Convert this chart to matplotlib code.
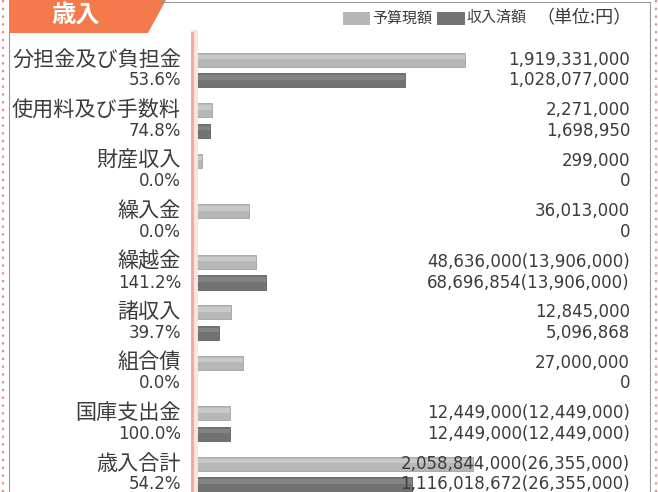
import numpy as np
import matplotlib.pyplot as plt
import matplotlib.transforms as mtransforms
from matplotlib.patches import Polygon, Rectangle
from matplotlib.lines import Line2D

plt.rcParams['font.family'] = ['Noto Sans CJK JP', 'DejaVu Sans']

categories = ["分担金及び負担金", "使用料及び手数料", "財産収入", "繰入金", "繰越金",
              "諸収入", "組合債", "国庫支出金", "歳入合計"]
budget = [1919331000, 2271000, 299000, 36013000, 48636000,
          12845000, 27000000, 12449000, 2058844000]
received = [1028077000, 1698950, 0, 0, 68696854,
            5096868, 0, 12449000, 1116018672]
budget_paren = [None, None, None, None, 13906000, None, None, 12449000, 26355000]
received_paren = [None, None, None, None, 13906000, None, None, 12449000, 26355000]

W, H = 658, 492
light = "#b7b7b7"
dark = "#727272"
txt = "#3c3c3c"
orange = "#f47a4c"

def fx(p):
    return p / W

def fy(p):
    return 1 - p / H

fig = plt.figure(figsize=(W / 100, H / 100), dpi=100)

# bar area
x0 = 194
ax = fig.add_axes([fx(x0), 0, fx(650 - x0), 1])
ax.patch.set_alpha(0)
ax.axis("off")

p = 0.4
ax.set_xscale("function", functions=(lambda x: np.sign(x) * np.abs(x) ** p,
                                     lambda x: np.sign(x) * np.abs(x) ** (1 / p)))
xmax = budget[0] * ((650 - x0) / (465 - x0)) ** (1 / p)
ax.set_xlim(0, xmax)
step = 50.5
ax.set_ylim((H - 60) / step, -60 / step)

idx = np.arange(len(categories))
off = 20.5 / step
bh = 14 / step
ax.barh(idx, budget, height=bh, color=light, edgecolor="#a3a3a3", linewidth=0.6)
ax.barh(idx + off, received, height=bh, color=dark, edgecolor="#606060", linewidth=0.6)
# highlight on upper part of bars
ax.barh(idx - bh * 0.22, budget, height=bh * 0.3, color="white", alpha=0.25, linewidth=0)
ax.barh(idx + off - bh * 0.22, received, height=bh * 0.3, color="white", alpha=0.12, linewidth=0)

tr = mtransforms.blended_transform_factory(fig.transFigure, ax.transData)
for i, cat in enumerate(categories):
    pct = received[i] / budget[i] * 100
    fig.text(fx(181), i, cat, transform=tr, ha="right", va="center",
             fontsize=15.2, color=txt)
    fig.text(fx(181), i + off, f"{pct:.1f}%", transform=tr, ha="right",
             va="center", fontsize=12, color=txt, family="DejaVu Sans")
    s1 = f"{budget[i]:,}" + (f"({budget_paren[i]:,})" if budget_paren[i] else "")
    s2 = f"{received[i]:,}" + (f"({received_paren[i]:,})" if received_paren[i] else "")
    fig.text(fx(630), i, s1, transform=tr, ha="right", va="center",
             fontsize=12, color=txt, family="DejaVu Sans")
    fig.text(fx(630), i + off, s2, transform=tr, ha="right", va="center",
             fontsize=12, color=txt, family="DejaVu Sans")

# frame
fig.add_artist(Line2D([fx(160), fx(650)], [fy(1.5), fy(1.5)], color="#9a9a9a", lw=0.8))
fig.add_artist(Line2D([fx(650), fx(650)], [fy(1.5), 0], color="#9a9a9a", lw=0.8))
fig.add_artist(Line2D([fx(8.5), fx(8.5)], [fy(33), 0], color="#9a9a9a", lw=0.8))
# dotted pink borders
fig.add_artist(Line2D([fx(3), fx(3)], [1, 0], color="#f08a8a", lw=1.6,
                      linestyle=(0, (1, 2.5))))
fig.add_artist(Line2D([fx(656), fx(656)], [1, 0], color="#f08a8a", lw=1.6,
                      linestyle=(0, (1, 2.5))))
# pink axis line
fig.add_artist(Line2D([fx(194), fx(194)], [fy(33), 0], color="#fbe3df", lw=5))
fig.add_artist(Line2D([fx(191.5), fx(191.5)], [fy(33), 0], color="#f2a79e", lw=2))

# header tab
fig.add_artist(Polygon([[fx(9), fy(0)], [fx(166), fy(0)], [fx(148), fy(33)], [fx(9), fy(33)]],
                       closed=True, facecolor=orange, edgecolor="none", transform=fig.transFigure))
fig.text(fx(76), fy(16), "歳入", ha="center", va="center", fontsize=17.5,
         fontweight="bold", color="white")

# legend
fig.add_artist(Rectangle((fx(343), fy(25)), fx(27), 13 / H, facecolor=light,
                         edgecolor="none", transform=fig.transFigure))
fig.text(fx(372), fy(18), "予算現額", ha="left", va="center", fontsize=10.8, color=txt)
fig.add_artist(Rectangle((fx(437), fy(25)), fx(28), 13 / H, facecolor=dark,
                         edgecolor="none", transform=fig.transFigure))
fig.text(fx(466), fy(18), "収入済額", ha="left", va="center", fontsize=10.8, color=txt)
fig.text(fx(632), fy(18), "（単位:円）", ha="right", va="center", fontsize=13, color=txt)

fig.savefig("out.png", dpi=100)
